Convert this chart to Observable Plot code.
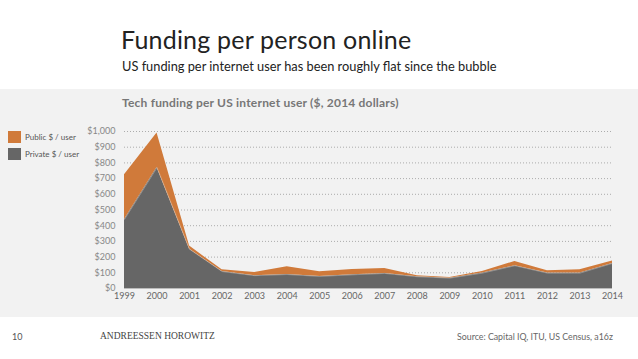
<!DOCTYPE html>
<html><head><meta charset="utf-8">
<script src="https://cdn.jsdelivr.net/npm/d3@7"></script>
<script src="https://cdn.jsdelivr.net/npm/@observablehq/plot@0.6"></script>
<style>
html,body{margin:0;padding:0;background:#fff;width:638px;height:359px;overflow:hidden;font-family:Lato,"Open Sans",sans-serif;}
#wrap{position:relative;width:638px;height:359px;}
.abs{position:absolute;white-space:nowrap;}
#title{left:121px;top:24px;font-size:25px;color:#222;font-family:Lato,sans-serif;letter-spacing:0.2px;}
#sub{left:122px;top:58px;font-size:12.8px;color:#222;letter-spacing:0px;}
#band{left:0;top:89px;width:638px;height:228px;background:#f2f2f2;}
#ctitle{left:122px;top:95px;font-size:12px;color:#777;font-weight:bold;letter-spacing:0.2px;}
.sw{position:absolute;width:13px;height:12px;}
.lg{font-size:8px;color:#555;}
#foot10{left:12px;top:331px;font-size:9px;color:#555;}
#brand{left:100px;top:331px;font-size:9.5px;color:#444;font-family:"Liberation Serif","DejaVu Serif",serif;letter-spacing:0px;}
#src{left:457px;top:331px;font-size:8.8px;color:#666;}
#chart{position:absolute;left:0;top:89px;}
</style></head>
<body><div id="wrap">
<div id="band" class="abs"></div>
<div id="title" class="abs">Funding per person online</div>
<div id="sub" class="abs">US funding per internet user has been roughly flat since the bubble</div>
<div id="ctitle" class="abs">Tech funding per US internet user ($, 2014 dollars)</div>
<div class="sw" style="left:8px;top:131px;background:#d07a3a"></div>
<div class="abs lg" style="left:25px;top:132px">Public $ / user</div>
<div class="sw" style="left:8px;top:148px;background:#666666"></div>
<div class="abs lg" style="left:25px;top:149px">Private $ / user</div>
<div id="chart"></div>
<div id="foot10" class="abs">10</div>
<div id="brand" class="abs">ANDREESSEN HOROWITZ</div>
<div id="src" class="abs">Source: Capital IQ, ITU, US Census, a16z</div>
</div>
<script>
const years = [1999,2000,2001,2002,2003,2004,2005,2006,2007,2008,2009,2010,2011,2012,2013,2014];
const privatePerUser = [440,770,250,108,82,89,77,87,96,75,66,98,145,98,98,160];
const publicPerUser  = [285,220,20,11,20,49,29,34,32,6,4,11,27,15,21,15];
const yTicks = [0,100,200,300,400,500,600,700,800,900,1000];

const data = [];
years.forEach((yr,i)=>{
  data.push({year:yr, series:"Private $ / user", value:privatePerUser[i]});
  data.push({year:yr, series:"Public $ / user", value:publicPerUser[i]});
});

const plot = Plot.plot({
  width:638, height:228,
  marginLeft:124, marginRight:26, marginTop:42, marginBottom:29,
  style:{background:"transparent", fontFamily:"Lato, sans-serif", fontSize:"9px", color:"#777"},
  x:{type:"linear", domain:[1999,2014], ticks:years, tickFormat:d=>String(d), label:null, tickSize:0, tickPadding:4},
  y:{domain:[0,1000], ticks:yTicks, tickFormat:d=>"$"+d3.format(",")(d), label:null, tickSize:0, tickPadding:9},
  color:{domain:["Private $ / user","Public $ / user"], range:["#666666","#d07a3a"]},
  marks:[
    Plot.gridY(yTicks.slice(1), {stroke:"#999", strokeOpacity:1, strokeDasharray:"1,2", strokeWidth:0.8}),
    Plot.areaY(data, {x:"year", y:"value", fill:"series", order:["Private $ / user","Public $ / user"]}),
    Plot.lineY(years.map((y,i)=>({year:y, v:privatePerUser[i]})), {x:"year", y:"v", stroke:"#e6e0da", strokeWidth:0.6, strokeOpacity:0.6}),
    Plot.ruleY([0], {stroke:"#bbb", strokeWidth:1}),
    Plot.axisX({ticks:years, tickFormat:d=>String(d), tickSize:0, tickPadding:4, fill:"#666", label:null}),
    Plot.axisY({ticks:yTicks, tickFormat:d=>"$"+d3.format(",")(d), tickSize:0, tickPadding:9, fill:"#888", label:null})
  ]
});
document.getElementById("chart").appendChild(plot);
</script>
</body></html>
